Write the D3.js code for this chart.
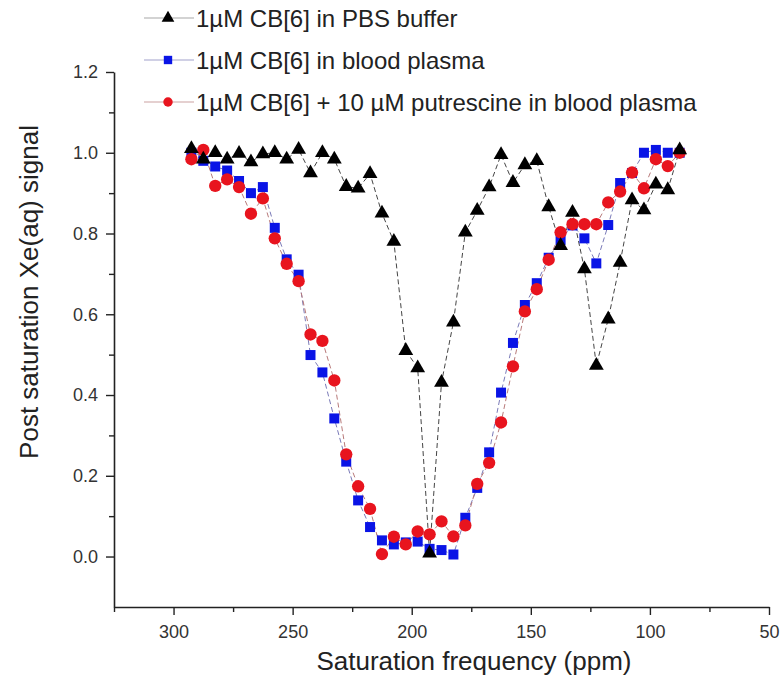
<!DOCTYPE html>
<html>
<head>
<meta charset="utf-8">
<script src="https://cdn.jsdelivr.net/npm/d3@7"></script>
<style>
    body { margin: 0; background: #fff; }
    svg { display: block; font-family: 'Liberation Sans', Arial, sans-serif; }
    .tick-label { fill: #333; }
</style>
</head>
<body>
<div id="chart"></div>
<script>

// Saturation frequency (ppm) of each point
var freq = [ 292.5, 287.5, 282.5, 277.5, 272.5, 267.5, 262.5, 257.5, 252.5, 247.5,
             242.5, 237.5, 232.5, 227.5, 222.5, 217.5, 212.5, 207.5, 202.5, 197.5,
             192.5, 187.5, 182.5, 177.5, 172.5, 167.5, 162.5, 157.5, 152.5, 147.5,
             142.5, 137.5, 132.5, 127.5, 122.5, 117.5, 112.5, 107.5, 102.5, 97.5,
             92.5, 87.5 ];

// 1uM CB[6] in PBS buffer
var pbs = [ 1.01, 0.984, 1.0, 0.984, 0.998, 0.977, 0.997, 1.0, 0.984, 1.008,
            0.95, 1.0, 0.984, 0.916, 0.912, 0.948, 0.85, 0.78, 0.51, 0.467,
            0.008, 0.431, 0.58, 0.803, 0.857, 0.915, 0.995, 0.926, 0.97, 0.98,
            0.866, 0.77, 0.852, 0.712, 0.473, 0.588, 0.728, 0.883, 0.858, 0.922,
            0.908, 1.007 ];

// 1uM CB[6] in blood plasma
var plasma = [ 1.0, 0.98, 0.966, 0.956, 0.93, 0.90, 0.915, 0.814, 0.736, 0.698,
               0.499, 0.456, 0.342, 0.235, 0.139, 0.073, 0.04, 0.03, 0.035, 0.037,
               0.019, 0.016, 0.005, 0.096, 0.17, 0.258, 0.406, 0.529, 0.623, 0.677,
               0.74, 0.784, 0.82, 0.788, 0.726, 0.821, 0.925, 0.95, 1.0, 1.007,
               1.0, 1.0 ];

// 1uM CB[6] + 10 uM putrescine in blood plasma
var putrescine = [ 0.984, 1.007, 0.918, 0.934, 0.915, 0.849, 0.887, 0.788, 0.725, 0.682,
                   0.55, 0.534, 0.436, 0.253, 0.174, 0.118, 0.006, 0.049, 0.03, 0.062,
                   0.055, 0.087, 0.05, 0.077, 0.18, 0.232, 0.332, 0.471, 0.607, 0.662,
                   0.735, 0.803, 0.823, 0.823, 0.823, 0.877, 0.904, 0.951, 0.912, 0.984,
                   0.967, 1.0 ];

var x_ticks = [ 300, 250, 200, 150, 100, 50 ];
var x_minor = [ 325, 275, 225, 175, 125, 75 ];
var y_ticks = [ 0.0, 0.2, 0.4, 0.6, 0.8, 1.0, 1.2 ];
var y_minor = [ 0.1, 0.3, 0.5, 0.7, 0.9, 1.1 ];

var legend_labels = [ '1\u00b5M CB[6] in PBS buffer',
                      '1\u00b5M CB[6] in blood plasma',
                      '1\u00b5M CB[6] + 10 \u00b5M putrescine in blood plasma' ];

function draw_chart ( container ) {

    var W = 783, H = 677;

    // Plot area edges (pixels)
    var margin = { left: 114, right: 769, top: 72, bottom: 607 };

    var svg = d3.select( container )
                .append( 'svg' )
                .attr( 'width', W )
                .attr( 'height', H );

    var x = d3.scaleLinear().domain( [325, 50] ).range( [margin.left, margin.right] );
    var y = d3.scaleLinear().domain( [-0.125, 1.2] ).range( [margin.bottom, margin.top] );

    // Axes
    var xAxis = svg.append( 'g' )
                   .attr( 'transform', 'translate(0,' + margin.bottom + ')' )
                   .call( d3.axisBottom( x ).tickValues( x_ticks ).tickSize( 8 ).tickSizeOuter( 0 ).tickPadding( 10 ) );

    svg.append( 'g' )
       .attr( 'transform', 'translate(0,' + margin.bottom + ')' )
       .call( d3.axisBottom( x ).tickValues( x_minor ).tickSize( 5 ).tickSizeOuter( 0 ).tickFormat( '' ) )
       .select( '.domain' ).remove();

    var yAxis = svg.append( 'g' )
                   .attr( 'transform', 'translate(' + margin.left + ',0)' )
                   .call( d3.axisLeft( y ).tickValues( y_ticks ).tickSize( 8 ).tickSizeOuter( 0 ).tickPadding( 8 )
                            .tickFormat( d3.format( '.1f' ) ) );

    svg.append( 'g' )
       .attr( 'transform', 'translate(' + margin.left + ',0)' )
       .call( d3.axisLeft( y ).tickValues( y_minor ).tickSize( 5 ).tickSizeOuter( 0 ).tickFormat( '' ) )
       .select( '.domain' ).remove();

    svg.selectAll( '.domain' ).attr( 'stroke', '#222' ).attr( 'stroke-width', 1.6 );
    svg.selectAll( '.tick line' ).attr( 'stroke', '#222' ).attr( 'stroke-width', 1.4 );

    xAxis.selectAll( 'text' )
         .attr( 'class', 'tick-label' )
         .style( 'font-size', '18px' );

    yAxis.selectAll( 'text' )
         .attr( 'class', 'tick-label' )
         .style( 'font-size', '18px' );

    // Axis titles
    svg.append( 'text' )
       .attr( 'x', 474 )
       .attr( 'y', 670 )
       .attr( 'text-anchor', 'middle' )
       .attr( 'fill', '#222' )
       .style( 'font-size', '26px' )
       .text( 'Saturation frequency (ppm)' );

    svg.append( 'text' )
       .attr( 'transform', 'translate(38,292) rotate(-90)' )
       .attr( 'text-anchor', 'middle' )
       .attr( 'fill', '#222' )
       .style( 'font-size', '26px' )
       .text( 'Post saturation Xe(aq) signal' );

    // Series
    var series = [
        { name: legend_labels[0], values: pbs,        shape: d3.symbolTriangle, size: 95,  fill: '#000',    line: '#444',    legend_line: '#c4c4c4' },
        { name: legend_labels[1], values: plasma,     shape: d3.symbolSquare,   size: 100, fill: '#0a14e6', line: '#7a7ab8', legend_line: '#c0c0dc' },
        { name: legend_labels[2], values: putrescine, shape: d3.symbolCircle,   size: 120, fill: '#e8141e', line: '#b87a7a', legend_line: '#dcc0c0' }
    ];

    var line = d3.line()
                 .x( function ( d ) { return x( d[0] ); } )
                 .y( function ( d ) { return y( d[1] ); } );

    series.forEach( function ( s ) {
        svg.append( 'path' )
           .datum( d3.zip( freq, s.values ) )
           .attr( 'fill', 'none' )
           .attr( 'stroke', s.line )
           .attr( 'stroke-width', 1 )
           .attr( 'stroke-dasharray', '5,3' )
           .attr( 'd', line );
    } );

    // squares first, then circles, triangles on top
    [ series[1], series[2], series[0] ].forEach( function ( s ) {
        svg.append( 'g' )
           .selectAll( 'path' )
           .data( d3.zip( freq, s.values ) )
           .enter().append( 'path' )
           .attr( 'transform', function ( d ) { return 'translate(' + x( d[0] ) + ',' + y( d[1] ) + ')'; } )
           .attr( 'd', d3.symbol().type( s.shape ).size( s.size ) )
           .attr( 'fill', s.fill );
    } );

    // Legend
    var legend = svg.selectAll( '.legend' )
                    .data( series )
                    .enter().append( 'g' )
                    .attr( 'class', 'legend' )
                    .attr( 'transform', function ( d, i ) { return 'translate(0,' + ( 18 + i * 42 ) + ')'; } );

    legend.append( 'line' )
          .attr( 'x1', 144 )
          .attr( 'x2', 194 )
          .attr( 'stroke', function ( d ) { return d.legend_line; } )
          .attr( 'stroke-width', 1.5 );

    legend.append( 'path' )
          .attr( 'transform', 'translate(168,0)' )
          .attr( 'd', function ( d ) { return d3.symbol().type( d.shape ).size( 70 )(); } )
          .attr( 'fill', function ( d ) { return d.fill; } );

    legend.append( 'text' )
          .attr( 'x', 196 )
          .attr( 'dy', '0.36em' )
          .attr( 'fill', '#222' )
          .style( 'font-size', '24px' )
          .text( function ( d ) { return d.name; } );

}

draw_chart( '#chart' );

</script>
</body>
</html>
